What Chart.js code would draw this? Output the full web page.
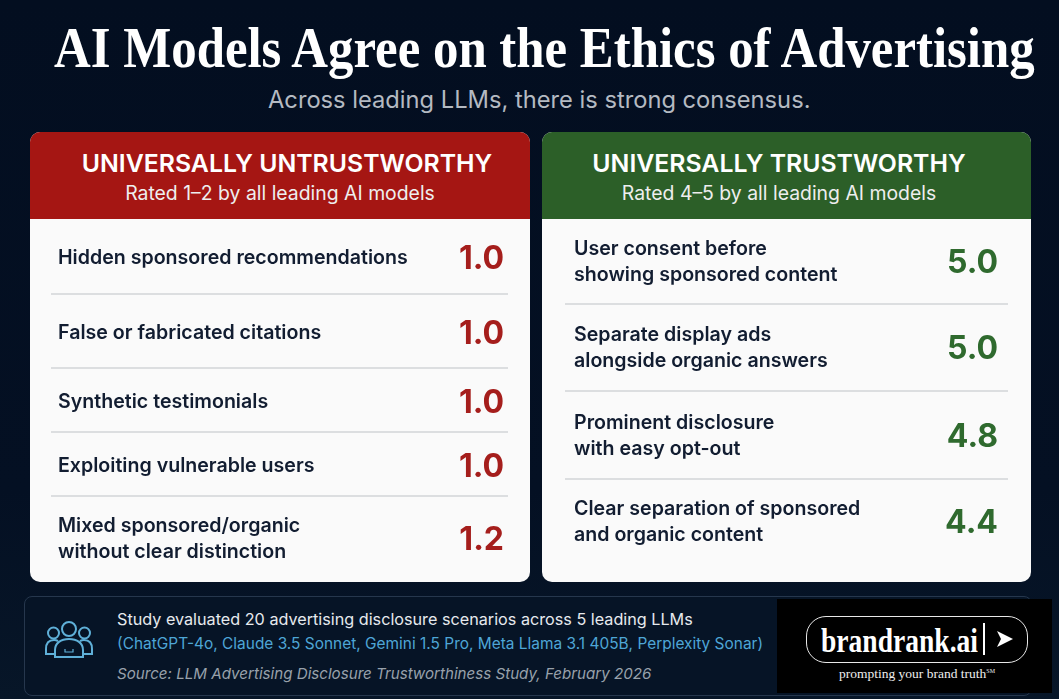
<!DOCTYPE html>
<html>
<head>
<meta charset="utf-8">
<title>AI Models Agree on the Ethics of Advertising</title>
<script src="https://cdn.jsdelivr.net/npm/chart.js@4"></script>
<style>
  html, body { margin: 0; padding: 0; }
  body {
    width: 1059px; height: 699px; position: relative; overflow: hidden;
    background: linear-gradient(180deg, #030e20 0%, #041023 70%, #071628 100%);
    font-family: Inter, sans-serif; color: #fff;
  }
  .abs { position: absolute; white-space: nowrap; line-height: 1; }
  #title { left: 54px; top: 16px; font: bold 56px "Liberation Serif", serif; transform: scaleX(0.908); transform-origin: left top; }
  #subtitle { left: 268px; top: 88px; font-size: 23.7px; color: #b4bac2; }
  .panel { position: absolute; top: 132px; height: 450px; border-radius: 10px; overflow: hidden; background: #fafafa; }
  .panel .head { height: 87px; text-align: center; }
  .panel .head b { display: block; padding-top: 17px; font-size: 24.8px; font-weight: 600; line-height: 28px; }
  .panel .head span { display: block; padding-top: 4px; font-size: 19.4px; line-height: 24px; color: #eee; }
  .panel .body { position: relative; height: 363px; }
  .panel canvas { display: block; }
  #pLeft { left: 30px; width: 500px; }
  #pLeft .head { background: #a51613; }
  #pLeft .head b { padding-left: 14px; }
  #pRight { left: 542px; width: 489px; }
  #pRight .head { background: #2c5f28; }
  #pRight .head b, #pRight .head span { padding-right: 15px; }
  #note { left: 24px; top: 596px; width: 1006px; height: 98px; border: 1.5px solid #26374d; border-radius: 8px; background: #061426; }
  #n1 { left: 117px; top: 611px; font-size: 16.2px; color: #e6eaee; }
  #n2 { left: 117px; top: 636px; font-size: 15.44px; color: #4ea6d6; }
  #n3 { left: 117px; top: 666px; font-size: 15.15px; font-style: italic; color: #98a1ab; }
  #icon { left: 44px; top: 621px; }
  #logo { left: 777px; top: 599px; width: 275px; height: 94px; background: #000; }
  #pill { left: 806px; top: 616px; width: 220px; height: 45px; border: 1.5px solid #e8e8e8; border-radius: 20px; }
  #brand { left: 821px; top: 623px; font: bold 33px "Liberation Serif", serif; transform: scaleX(0.835); transform-origin: left top; }
  #bar { left: 983px; top: 623px; width: 1.5px; height: 32px; background: #fff; }
  #arrow { left: 996px; top: 630px; }
  #tag { left: 839px; top: 666px; font: 13.5px "Liberation Serif", serif; color: #eee; }
  #tag sup { font-size: 6px; }
</style>
</head>
<body>
<div class="abs" id="title">AI Models Agree on the Ethics of Advertising</div>
<div class="abs" id="subtitle">Across leading LLMs, there is strong consensus.</div>

<div class="panel" id="pLeft">
  <div class="head"><b>UNIVERSALLY UNTRUSTWORTHY</b><span>Rated 1–2 by all leading AI models</span></div>
  <div class="body"><canvas id="leftChart"></canvas></div>
</div>
<div class="panel" id="pRight">
  <div class="head"><b>UNIVERSALLY TRUSTWORTHY</b><span>Rated 4–5 by all leading AI models</span></div>
  <div class="body"><canvas id="rightChart"></canvas></div>
</div>

<div class="abs" id="note"></div>
<svg class="abs" id="icon" width="50" height="38" viewBox="0 0 50 38" fill="none" stroke="#5fb0d8" stroke-width="2">
  <circle cx="25" cy="8" r="7"/><circle cx="9.5" cy="12" r="5.5"/><circle cx="40.5" cy="12" r="5.5"/>
  <path d="M12 33H2v-5c0-6 3-9 8-9 2 0 3 .5 4 1"/><path d="M38 33h10v-5c0-6-3-9-8-9-2 0-3 .5-4 1"/>
  <path d="M11 36v-7c0-7 6-11 14-11s14 4 14 11v7z"/>
  <path d="M21 28v3h8v-3" stroke-width="1.2"/>
</svg>
<div class="abs" id="n1">Study evaluated 20 advertising disclosure scenarios across 5 leading LLMs</div>
<div class="abs" id="n2">(ChatGPT-4o, Claude 3.5 Sonnet, Gemini 1.5 Pro, Meta Llama 3.1 405B, Perplexity Sonar)</div>
<div class="abs" id="n3">Source: LLM Advertising Disclosure Trustworthiness Study, February 2026</div>

<div class="abs" id="logo"></div>
<div class="abs" id="pill"></div>
<div class="abs" id="brand">brandrank.ai</div>
<div class="abs" id="bar"></div>
<svg class="abs" id="arrow" width="18" height="18" viewBox="0 0 18 18"><path d="M1 1L17 9L1 17L5 9z" fill="#fff"/></svg>
<div class="abs" id="tag">prompting your brand truth<sup>SM</sup></div>

<script>
// ── Data ──
const untrustworthyLabels = [
    'Hidden sponsored recommendations',
    'False or fabricated citations',
    'Synthetic testimonials',
    'Exploiting vulnerable users',
    ['Mixed sponsored/organic', 'without clear distinction']
];
const untrustworthyScores = [1.0, 1.0, 1.0, 1.0, 1.2];

const trustworthyLabels = [
    ['User consent before', 'showing sponsored content'],
    ['Separate display ads', 'alongside organic answers'],
    ['Prominent disclosure', 'with easy opt-out'],
    ['Clear separation of sponsored', 'and organic content']
];
const trustworthyScores = [5.0, 5.0, 4.8, 4.4];

// ── Category scale whose rows can have different heights ──
// rowEdges are measured from the top of the canvas
class RowScale extends Chart.CategoryScale {
    static id = 'rows';
    getPixelForValue(value) {
        const i = typeof value === 'number' ? value : this.parse(value);
        const edges = this.options.rowEdges;
        return (edges[i] + edges[i + 1]) / 2 + this.options.rowShift;
    }
}
Chart.register(RowScale);

// Score text at the right end of each row, plus the divider lines
const rowDecor = {
    id: 'rowDecor',
    afterDatasetsDraw(chart, args, opts) {
        const { ctx, scales } = chart;
        const meta = chart.getDatasetMeta(0);
        ctx.save();
        ctx.strokeStyle = '#d2d4d7';
        ctx.lineWidth = 1.4;
        scales.y.options.rowEdges.slice(1, meta.data.length).forEach(e => {
            ctx.beginPath();
            ctx.moveTo(opts.lineLeft, e);
            ctx.lineTo(opts.lineRight, e);
            ctx.stroke();
        });
        ctx.fillStyle = opts.color;
        ctx.font = '700 32px Inter, sans-serif';
        ctx.textAlign = 'right';
        ctx.textBaseline = 'middle';
        meta.data.forEach((bar, i) => {
            const v = chart.data.datasets[0].data[i];
            ctx.fillText(v.toFixed(1), opts.valueRight, bar.y + 1);
        });
        ctx.restore();
    }
};

function makePanel(id, labels, scores, decor) {
    return new Chart(document.getElementById(id), {
        type: 'bar',
        data: {
            labels,
            datasets: [{ label: 'Score', data: scores, backgroundColor: 'transparent' }]
        },
        options: {
            indexAxis: 'y',
            responsive: false,
            animation: false,
            layout: { padding: 0 },
            plugins: { legend: { display: false }, tooltip: { enabled: false }, rowDecor: decor },
            scales: {
                x: { display: false, min: 0, max: 5 },
                y: {
                    type: 'rows',
                    rowEdges: decor.rowEdges,
                    rowShift: decor.rowShift,
                    afterFit: s => { s.width = 0; },
                    border: { display: false },
                    grid: { display: false, drawTicks: false },
                    ticks: {
                        mirror: true,
                        padding: decor.labelLeft,
                        color: '#121d31',
                        autoSkip: false,
                        font: { family: 'Inter, sans-serif', size: 19.6, weight: '600', lineHeight: 1.33 }
                    }
                }
            }
        },
        plugins: [rowDecor]
    });
}

function sizeCanvas(id, w, h) {
    const c = document.getElementById(id);
    c.width = w; c.height = h;
    c.style.width = w + 'px'; c.style.height = h + 'px';
}

sizeCanvas('leftChart', 500, 363);
sizeCanvas('rightChart', 489, 363);

makePanel('leftChart', untrustworthyLabels, untrustworthyScores, {
    rowEdges: [0, 75, 149, 213, 277, 359], rowShift: 2,
    labelLeft: 28, lineLeft: 21, lineRight: 478, valueRight: 474, color: '#a51e1c'
});
makePanel('rightChart', trustworthyLabels, trustworthyScores, {
    rowEdges: [0, 85, 172, 260, 345], rowShift: 1,
    labelLeft: 32, lineLeft: 23, lineRight: 466, valueRight: 456, color: '#2f6a2e'
});
</script>
</body>
</html>
